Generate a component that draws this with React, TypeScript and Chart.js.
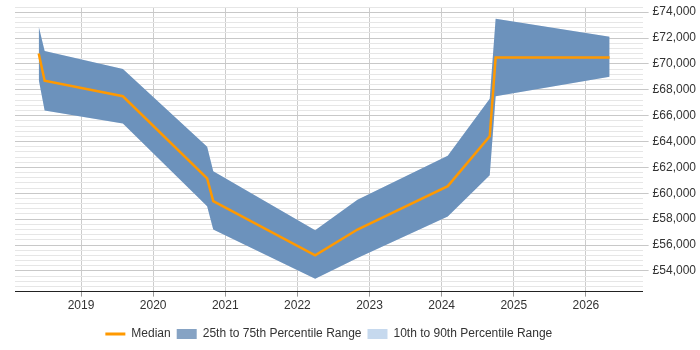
import { useEffect, useRef } from 'react';
import { Chart, registerables } from 'chart.js';

Chart.register(...registerables);

// Survey points (first of month) and the salary percentiles at each point
const dates = [
  '2018-06-01', '2018-07-01', '2019-08-01', '2020-10-01', '2020-11-01', '2022-04-01',
  '2022-11-01', '2024-02-01', '2024-09-01', '2024-10-01', '2026-05-01',
];
const median = [70800, 68700, 67500, 61150, 59400, 55200, 57200, 60550, 64400, 70500, 70500];
const p75 = [72900, 71000, 69600, 63600, 61700, 57150, 59500, 62900, 67300, 73500, 72100];
const p25 = [68800, 66400, 65400, 59000, 57200, 53400, 55000, 58200, 61400, 67500, 69000];
// The outer band coincides with the inner one for this role
const p90 = [72900, 71000, 69600, 63600, 61700, 57150, 59500, 62900, 67300, 73500, 72100];
const p10 = [68800, 66400, 65400, 59000, 57200, 53400, 55000, 58200, 61400, 67500, 69000];

const yearTicks = [2019, 2020, 2021, 2022, 2023, 2024, 2025, 2026];
const axisStart = '2018-02-01';
const axisEnd = '2026-10-15';
const yMin = 52400;
const yMax = 74400;
const yStep = 400;
const yLabelStep = 2000;

const ORANGE = '#ff9900';
const IQR_FILL = 'rgba(33, 86, 147, 0.545)';
const OUTER_FILL = 'rgb(198, 217, 238)';
const TEXT = '#333333';
const FONT = '"Liberation Sans", Arial, sans-serif';

function toYear(s: string): number {
  const d = new Date(s + 'T00:00:00Z');
  const y = d.getUTCFullYear();
  const start = Date.UTC(y, 0, 1);
  const end = Date.UTC(y + 1, 0, 1);
  return y + (d.getTime() - start) / (end - start);
}

const points = (vals: number[]) => dates.map((d, i) => ({ x: toYear(d), y: vals[i] }));

const pounds = (v: number) => '£' + String(v).replace(/\B(?=(\d{3})+(?!\d))/g, ',');

export default function App() {
  const ref = useRef<HTMLCanvasElement | null>(null);

  useEffect(() => {
    document.body.style.margin = '0';
    if (!ref.current) return;

    const band = (vals: number[], fill: false | string, color: string) => ({
      data: points(vals),
      borderWidth: 0,
      borderColor: 'rgba(0,0,0,0)',
      backgroundColor: color,
      pointRadius: 0,
      tension: 0,
      fill,
    });

    const chart = new Chart(ref.current, {
      type: 'line',
      data: {
        datasets: [
          {
            label: 'Median',
            data: points(median),
            borderColor: ORANGE,
            backgroundColor: ORANGE,
            borderWidth: 2.5,
            pointRadius: 0,
            tension: 0,
            fill: false,
          },
          { label: '25th to 75th Percentile Range', ...band(p75, '+1', IQR_FILL) },
          { label: 'p25', ...band(p25, false, IQR_FILL) },
          { label: '10th to 90th Percentile Range', ...band(p90, '+1', OUTER_FILL) },
          { label: 'p10', ...band(p10, false, OUTER_FILL) },
        ] as any,
      },
      options: {
        animation: false,
        responsive: true,
        maintainAspectRatio: false,
        layout: { padding: { left: 15, right: 0, top: 7, bottom: 0 } },
        font: { family: FONT, size: 12 },
        plugins: {
          tooltip: { enabled: false },
          legend: {
            position: 'bottom',
            fullSize: false,
            onClick: () => {},
            labels: {
              color: TEXT,
              font: { family: FONT, size: 12 },
              usePointStyle: true,
              pointStyleWidth: 20,
              boxHeight: 10,
              padding: 6,
              generateLabels: () => [
                {
                  text: 'Median',
                  pointStyle: 'line',
                  fillStyle: ORANGE,
                  strokeStyle: ORANGE,
                  lineWidth: 3,
                  fontColor: TEXT,
                  hidden: false,
                  datasetIndex: 0,
                },
                {
                  text: '25th to 75th Percentile Range',
                  pointStyle: 'rect',
                  fillStyle: IQR_FILL,
                  strokeStyle: IQR_FILL,
                  lineWidth: 0,
                  fontColor: TEXT,
                  hidden: false,
                  datasetIndex: 1,
                },
                {
                  text: '10th to 90th Percentile Range',
                  pointStyle: 'rect',
                  fillStyle: OUTER_FILL,
                  strokeStyle: OUTER_FILL,
                  lineWidth: 0,
                  fontColor: TEXT,
                  hidden: false,
                  datasetIndex: 3,
                },
              ] as any,
            },
          },
        },
        scales: {
          x: {
            type: 'linear',
            min: toYear(axisStart),
            max: toYear(axisEnd),
            afterBuildTicks: (scale: any) => {
              scale.ticks = yearTicks.map((v) => ({ value: v }));
            },
            // leave a little room between the year labels and the legend
            afterFit: (scale: any) => {
              scale.height += 7;
            },
            ticks: {
              color: TEXT,
              font: { family: FONT, size: 12 },
              padding: 2,
              maxRotation: 0,
              autoSkip: false,
              callback: (v: any) => String(v),
            },
            grid: {
              color: '#cccccc',
              tickColor: '#999999',
              tickLength: 5,
            },
            border: { color: '#222222', width: 1 },
          },
          y: {
            type: 'linear',
            position: 'right',
            min: yMin,
            max: yMax,
            afterBuildTicks: (scale: any) => {
              const t = [];
              for (let v = yMin; v <= yMax; v += yStep) t.push({ value: v });
              scale.ticks = t;
            },
            // the top tick carries no label, so it needs no headroom
            afterFit: (scale: any) => {
              scale.paddingTop = 0;
            },
            ticks: {
              color: TEXT,
              font: { family: FONT, size: 12 },
              padding: 4,
              autoSkip: false,
              callback: (v: any) => (Number(v) % yLabelStep === 0 ? pounds(Number(v)) : ''),
            },
            grid: {
              color: (c: any) => (c.tick && c.tick.value % yLabelStep === 0 ? '#c8c8c8' : '#e6e6e6'),
              tickColor: (c: any) =>
                c.tick && c.tick.value % yLabelStep === 0 ? '#c8c8c8' : 'rgba(0,0,0,0)',
              tickLength: 6,
            },
            border: { display: false },
          },
        },
      } as any,
    });

    return () => chart.destroy();
  }, []);

  return (
    <div style={{ position: 'relative', width: '700px', height: '350px' }}>
      <canvas ref={ref} />
    </div>
  );
}
